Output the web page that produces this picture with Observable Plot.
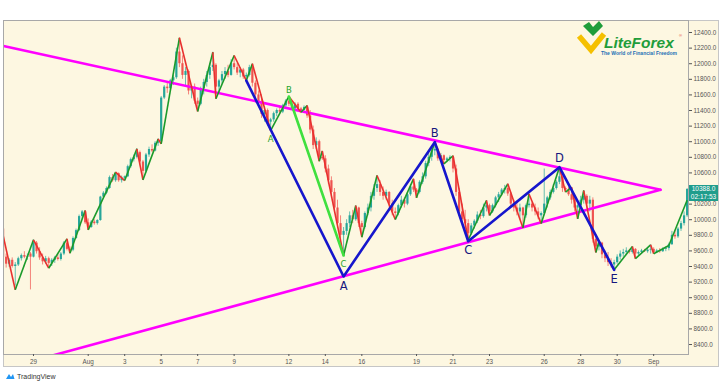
<!DOCTYPE html>
<html><head><meta charset="utf-8">
<script src="https://cdn.jsdelivr.net/npm/d3@7"></script>
<script src="https://cdn.jsdelivr.net/npm/@observablehq/plot@0.6"></script>
<style>
html,body{margin:0;padding:0;background:#fff;}
#wrap{position:relative;width:720px;height:384px;overflow:hidden;background:#fff;}
#bg{position:absolute;left:3px;top:20px;width:716px;height:347px;box-sizing:border-box;background:#fdf7e1;border:1px solid #c6c6c6;}
#chart{position:absolute;left:0;top:0;}
.pbox{position:absolute;left:689px;width:29px;height:8px;background:#1f9d8c;color:#fff;font:6.5px 'Liberation Sans',Arial,sans-serif;line-height:8px;text-align:center;}
#logo{position:absolute;left:574px;top:20px;width:120px;height:40px;}
#tv{position:absolute;left:5px;top:372px;font:7px 'Liberation Sans',Arial,sans-serif;color:#333;display:flex;align-items:center;gap:2px;}
</style></head><body>
<div id="wrap">
  <div id="bg"></div>
  <div id="chart"></div>
  <svg id="logo" viewBox="0 0 120 40">
    <polyline points="5,16 17,30 30,14" fill="none" stroke="#f5c000" stroke-width="5.5" stroke-linejoin="miter"/>
    <polygon points="9,6 15,2 19,7 25,1 29,6 19,16" fill="#1f9d3a"/>
    <text x="30" y="28" font-family="'Liberation Sans',Arial,sans-serif" font-size="15.5" font-weight="bold" font-style="italic" fill="#1f9d3a">LiteForex</text>
    <text x="105" y="17" font-family="'Liberation Sans',Arial,sans-serif" font-size="4" fill="#d33">®</text>
    <text x="27" y="35" font-family="'Liberation Sans',Arial,sans-serif" font-size="5" font-weight="bold" fill="#1c6fb5">The World of Financial Freedom</text>
  </svg>
  <div id="tv"><svg width="10" height="8" viewBox="0 0 10 8"><path d="M1 7 L4 2 L6 5 L8 2 L9.5 7 Z" fill="#2196f3"/></svg><span>TradingView</span></div>
</div>
<script>
// ---- data ----
const firstBar = Date.UTC(2019, 6, 27, 8); // 4-hour bars
// [open, high, low, close]
const candles = [
  [9880,9900,9480,9520],[9520,9560,9380,9430],[9430,9500,9390,9480],[9480,9510,9380,9400],
  [9400,9450,9150,9420],[9420,9520,9400,9500],[9500,9560,9470,9540],[9540,9590,9500,9520],[9520,9560,9480,9530],[9560,9580,9100,9520],
  [9520,9742,9510,9700],[9700,9720,9560,9590],[9590,9640,9480,9510],[9510,9560,9420,9460],[9460,9530,9430,9500],[9500,9520,9378,9440],
  [9440,9500,9400,9480],[9480,9530,9440,9510],[9510,9560,9470,9490],[9490,9580,9470,9560],[9560,9720,9540,9700],[9700,9755,9600,9620],
  [9620,9650,9570,9610],[9610,9780,9590,9760],[9760,9880,9750,9860],[9860,10060,9850,10040],[10040,10118,10000,10100],[10100,10118,9940,9960],
  [9960,10010,9870,9900],[9900,9990,9890,9970],[9970,10000,9930,9950],[9950,10000,9930,9990],[9990,10300,9980,10290],[10290,10360,10280,10340],
  [10340,10420,10320,10400],[10400,10560,10390,10540],[10540,10580,10480,10500],[10500,10610,10480,10590],[10590,10600,10480,10500],[10500,10560,10470,10530],
  [10530,10560,10502,10550],[10550,10700,10540,10680],[10680,10790,10660,10770],[10770,10830,10740,10800],[10800,10909,10780,10860],[10860,10880,10700,10740],
  [10740,10760,10511,10620],[10620,10850,10600,10830],[10830,10930,10800,10900],[10900,10960,10860,10880],[10880,11000,10870,10980],[10980,11036,10940,11000],
  [11000,11580,10973,11560],[11560,11720,11540,11700],[11700,11760,11620,11680],[11680,11800,11660,11780],[11780,11850,11720,11820],[11820,12200,11800,12150],
  [12150,12332,11950,12000],[12000,12100,11800,11850],[11850,11950,11700,11900],[11900,11920,11600,11650],[11650,11720,11550,11700],[11700,11740,11480,11520],
  [11520,11560,11387,11480],[11480,11700,11460,11680],[11680,11800,11600,11760],[11760,11900,11700,11850],[11850,12000,11800,11950],[11950,12147,11900,11980],
  [11980,12000,11550,11700],[11700,11800,11620,11780],[11780,11900,11740,11860],[11860,11950,11800,11900],[11900,11980,11820,11850],[11850,12050,11840,12000],
  [12000,12105,11920,11950],[11950,12000,11850,11880],[11880,11950,11820,11920],[11920,11940,11800,11830],[11830,11880,11784,11850],[11850,11980,11830,11950],
  [11950,12000,11700,11750],[11750,11780,11550,11600],[11600,11650,11450,11500],[11500,11600,11300,11350],[11350,11450,11250,11400],[11400,11420,11200,11250],
  [11250,11300,11143,11280],[11280,11380,11250,11360],[11360,11420,11320,11400],[11400,11460,11350,11380],[11380,11480,11360,11460],[11460,11540,11420,11520],
  [11520,11580,11450,11480],[11480,11520,11400,11420],[11420,11500,11400,11480],[11480,11500,11400,11420],[11420,11440,11378,11400],[11400,11460,11390,11440],
  [11440,11464,11300,11330],[11330,11400,11100,11150],[11150,11200,10900,10950],[10950,11050,10900,11000],[11000,11020,10750,10800],[10800,10880,10760,10780],
  [10780,10820,10600,10650],[10650,10700,10450,10500],[10500,10550,10300,10350],[10350,10400,10100,10150],[10150,10250,9900,9950],[9950,10050,9700,9800],
  [9800,9900,9541,9850],[9850,10000,9800,9950],[9950,10100,9900,10050],[10050,10120,9950,10000],[10000,10180,9980,10150],[10150,10160,9900,9950],
  [9950,9980,9776,9900],[9900,10100,9880,10080],[10080,10200,10050,10150],[10150,10350,10100,10300],[10300,10450,10250,10400],[10400,10567,10350,10450],
  [10450,10500,10300,10350],[10350,10420,10250,10300],[10300,10380,10250,10350],[10350,10360,10150,10200],[10200,10250,10050,10100],[10100,10150,10002,10080],
  [10080,10200,10050,10180],[10180,10300,10150,10250],[10250,10280,10150,10200],[10200,10350,10180,10320],[10320,10450,10300,10420],[10420,10524,10350,10380],
  [10380,10400,10281,10350],[10350,10500,10330,10480],[10480,10600,10450,10550],[10550,10750,10520,10720],[10720,10850,10680,10800],[10800,10900,10750,10880],
  [10880,10994,10820,10900],[10900,10920,10750,10780],[10780,10850,10740,10820],[10820,10830,10715,10760],[10760,10800,10730,10780],[10780,10820,10740,10800],
  [10800,10820,10600,10650],[10650,10700,10300,10350],[10350,10400,10050,10100],[10100,10200,9950,10000],[10000,10120,9880,9950],[9950,10000,9740,9820],
  [9820,9950,9800,9920],[9920,10000,9880,9980],[9980,10100,9950,10060],[10060,10120,10000,10040],[10040,10200,10020,10150],[10150,10246,10100,10180],
  [10180,10200,10054,10100],[10100,10200,10080,10180],[10180,10300,10150,10280],[10280,10350,10220,10320],[10320,10400,10300,10380],[10380,10440,10330,10400],
  [10400,10460,10300,10330],[10330,10350,10150,10200],[10200,10250,10100,10150],[10150,10220,10050,10100],[10100,10200,10000,10150],[10150,10160,9895,10050],
  [10050,10200,10020,10180],[10180,10330,10150,10200],[10200,10220,10100,10150],[10150,10200,10050,10100],[10100,10150,10000,10050],[10050,10100,9950,10080],
  [10080,10650,10050,10200],[10200,10300,10150,10280],[10280,10380,10250,10350],[10350,10450,10330,10400],[10400,10500,10380,10480],[10480,10673,10450,10550],
  [10550,10580,10350,10400],[10400,10420,10353,10380],[10380,10417,10300,10320],[10320,10400,10200,10250],[10250,10280,10100,10150],[10150,10200,10011,10180],
  [10180,10300,10150,10250],[10250,10374,10200,10300],[10300,10320,10150,10200],[10200,10300,10100,10250],[10250,10280,9700,9750],[9750,9800,9580,9650],
  [9650,9720,9600,9700],[9700,9710,9500,9550],[9550,9600,9450,9500],[9500,9580,9400,9450],[9450,9500,9380,9420],[9420,9480,9358,9450],
  [9450,9550,9430,9520],[9520,9600,9480,9560],[9560,9620,9520,9580],[9580,9640,9540,9600],[9600,9620,9560,9580],[9580,9656,9560,9620],
  [9620,9630,9500,9560],[9560,9600,9540,9580],[9580,9620,9560,9600],[9600,9620,9580,9590],[9590,9640,9570,9610],[9610,9678,9560,9620],
  [9620,9640,9563,9580],[9580,9620,9570,9600],[9600,9630,9570,9590],[9590,9640,9580,9620],[9620,9650,9590,9630],[9630,9700,9600,9680],
  [9680,9850,9670,9800],[9800,9860,9750,9780],[9780,9900,9760,9880],[9880,9980,9850,9950],[9950,10100,9920,10050],[10050,10400,10030,10388]
];
// zigzag indicator pivots (bar index, price)
const zzIdx   = [0,4,10,15,21,22,27,28,37,40,44,46,51,52,58,64,69,70,76,80,82,88,94,98,100,104,105,112,116,118,123,129,135,136,142,145,148,153,159,160,166,171,173,177,183,185,187,189,191,195,196,201,207,208,213,214,219,225];
const zzPrice = [9797,9101,9742,9378,9755,9570,10118,9870,10610,10502,10909,10511,11036,10973,12332,11387,12147,11550,12105,11784,12000,11143,11580,11378,11464,10750,10880,9541,10180,9776,10567,10002,10524,10281,10994,10715,10820,9740,10246,10054,10460,9895,10330,9950,10673,10353,10417,10011,10374,9580,9720,9358,9656,9500,9678,9563,9669,10250];
// big wave (blue)
const waveIdx = [80,112,142,153,183,201];
const wavePrice = [11784,9272,10994,9724,10673,9358];
const waveLabels = ["","A","B","C","D","E"];
// correction (green)
const corrIdx = [88,94,112];
const corrPrice = [11143,11580,9541];
const corrLabels = ["A","B","C"];
// triangle trend lines (time, price)
const upperLine = [["2019-07-27T08:32Z",12227],["2019-09-01T09:00Z",10383]];
const lowerLine = [["2019-07-27T08:32Z",8088],["2019-09-01T09:00Z",10383]];
const yTicks = [8400,8600,8800,9000,9200,9400,9600,9800,10000,10200,10400,10600,10800,11000,11200,11400,11600,11800,12000,12200,12400];
const xTickDates = ["2019-07-29","2019-08-01","2019-08-03","2019-08-05","2019-08-07","2019-08-09","2019-08-12","2019-08-14","2019-08-16","2019-08-19","2019-08-21","2019-08-23","2019-08-26","2019-08-28","2019-08-30","2019-09-01"];
const xTickLabels = ["29","Aug","3","5","7","9","12","14","16","19","21","23","26","28","30","Sep"];
const lastPrice = 10388;
const countdown = "02:17:53";

// ---- build ----
const H4 = 4 * 3600 * 1000;
const barTime = i => new Date(firstBar + i * H4);
const UP = "#26a69a", DN = "#ef5350";
const bars = candles.map(([o,h,l,c], i) => ({t: barTime(i), o, h, l, c, col: c >= o ? UP : DN}));
const zz = zzIdx.map((i,k) => ({t: barTime(i), p: zzPrice[k]}));
const zzSeg = zz.slice(1).map((d,k) => ({t1: zz[k].t, p1: zz[k].p, t2: d.t, p2: d.p, col: d.p > zz[k].p ? "#1b9a2a" : "#e8302e"}));
function pts(idx, price, labels) {
  const a = idx.map((i,k) => ({t: barTime(i), p: price[k], label: labels[k]}));
  a.forEach((d,k) => { const pr = a[k-1], nx = a[k+1]; d.peak = (!pr || d.p > pr.p) && (!nx || d.p > nx.p); });
  return a;
}
const wave = pts(waveIdx, wavePrice, waveLabels);
const corr = pts(corrIdx, corrPrice, corrLabels);
const lime = corr.slice(1);
const up = upperLine.map(([t,p]) => ({t: new Date(t), p}));
const lo = lowerLine.map(([t,p]) => ({t: new Date(t), p}));
const tickMap = new Map(xTickDates.map((d,k) => [+new Date(d), xTickLabels[k]]));
// the tick label hidden under the last-price box
const underBox = d => Math.abs(d - lastPrice) < 100;

const plot = Plot.plot({
  width: 720, height: 384,
  marginLeft: 3, marginRight: 32, marginTop: 20, marginBottom: 30,
  x: {type: "utc", domain: [new Date(Date.UTC(2019,6,27,8,32)), new Date(Date.UTC(2019,8,2,21,50))]},
  y: {domain: [8272, 12554]},
  color: {type: "identity"},
  style: {background: "transparent", fontFamily: "'Liberation Sans', Arial, sans-serif", overflow: "visible"},
  marks: [
    Plot.ruleX(bars, {x: "t", y1: "l", y2: "h", stroke: "col", strokeWidth: 1, strokeOpacity: 0.7, clip: true}),
    Plot.ruleX(bars, {x: "t", y1: "o", y2: "c", stroke: "col", strokeWidth: 2.2, clip: true}),
    Plot.line(up, {x: "t", y: "p", stroke: "#ff00ff", strokeWidth: 2.6, clip: true}),
    Plot.line(lo, {x: "t", y: "p", stroke: "#ff00ff", strokeWidth: 2.6, clip: true}),
    Plot.link(zzSeg, {x1: "t1", y1: "p1", x2: "t2", y2: "p2", stroke: "col", strokeWidth: 1.6, clip: true}),
    Plot.line(lime, {x: "t", y: "p", stroke: "#3fe03f", strokeWidth: 2.6}),
    Plot.line(wave, {x: "t", y: "p", stroke: "#1616cc", strokeWidth: 2.6}),
    Plot.text(wave.filter(d => d.label && d.peak), {x: "t", y: "p", text: "label", lineAnchor: "bottom", dy: -5, fontSize: 11.5, fill: "#16167e", fontFamily: "'DejaVu Sans', sans-serif"}),
    Plot.text(wave.filter(d => d.label && !d.peak), {x: "t", y: "p", text: "label", lineAnchor: "top", dy: 5, fontSize: 11.5, fill: "#16167e", fontFamily: "'DejaVu Sans', sans-serif"}),
    Plot.text(corr.filter(d => d.peak), {x: "t", y: "p", text: "label", lineAnchor: "bottom", dy: -3, fontSize: 8.5, fill: "#22a32a", fontFamily: "'DejaVu Sans', sans-serif"}),
    Plot.text(corr.filter(d => !d.peak), {x: "t", y: "p", text: "label", lineAnchor: "top", dy: 5, fontSize: 8.5, fill: "#22a32a", fontFamily: "'DejaVu Sans', sans-serif"}),
    Plot.frame({stroke: "#a8a8a8", strokeWidth: 1}),
    Plot.axisY(yTicks, {anchor: "right", tickSize: 3, tickPadding: 2, tickFormat: d => underBox(d) ? "" : d.toFixed(1), fontSize: 6.3, color: "#555"}),
    Plot.axisX(xTickDates.map(d => new Date(d)), {anchor: "bottom", tickSize: 2, tickPadding: 3, tickFormat: d => tickMap.get(+d), fontSize: 6.3, color: "#555"})
  ]
});
document.getElementById("chart").appendChild(plot);
const yPos = plot.scale("y").apply(lastPrice);
const wrap = document.getElementById("wrap");
const b1 = document.createElement("div"); b1.className = "pbox"; b1.style.top = (yPos - 4) + "px"; b1.textContent = lastPrice.toFixed(1);
const b2 = document.createElement("div"); b2.className = "pbox"; b2.style.top = (yPos + 4.5) + "px"; b2.style.height = "7.5px"; b2.style.lineHeight = "7.5px"; b2.textContent = countdown;
wrap.appendChild(b1); wrap.appendChild(b2);
</script>
</body></html>
